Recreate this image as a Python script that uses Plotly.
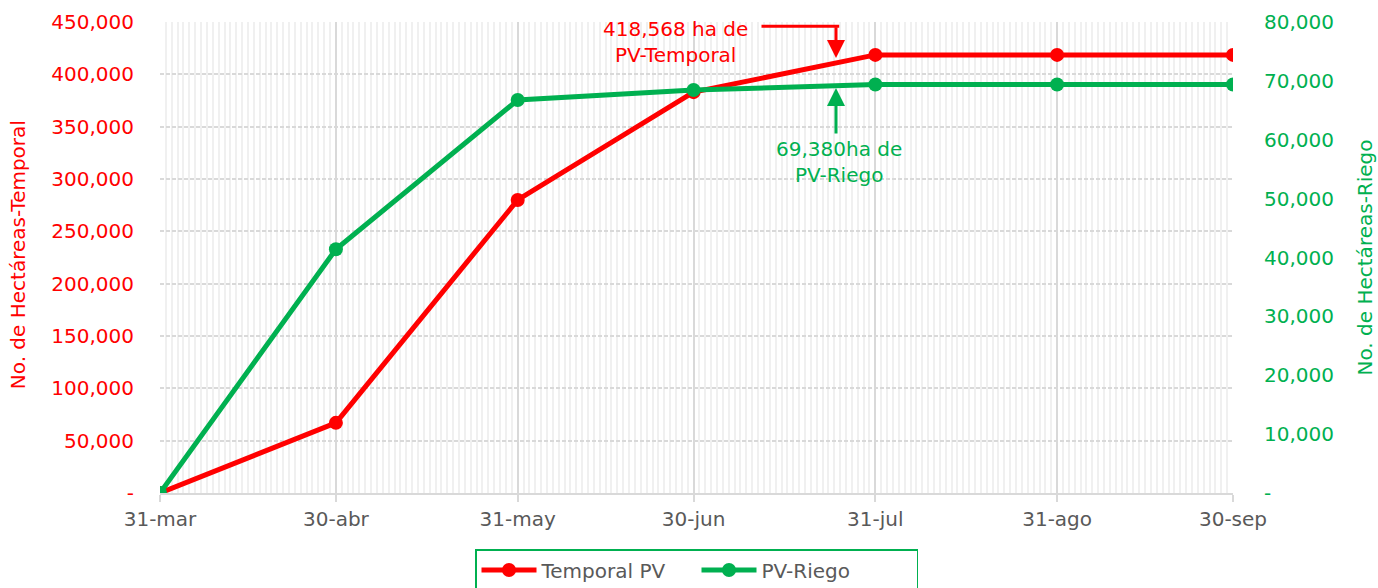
import plotly.graph_objects as go

dates = ["2024-03-31", "2024-04-30", "2024-05-31", "2024-06-30", "2024-07-31", "2024-08-31", "2024-09-30"]
tick_labels = ["31-mar", "30-abr", "31-may", "30-jun", "31-jul", "31-ago", "30-sep"]
temporal = [0, 67000, 280000, 383000, 418568, 418568, 418568]
riego = [0, 41400, 66750, 68450, 69380, 69380, 69380]

left_ticks = [0, 50000, 100000, 150000, 200000, 250000, 300000, 350000, 400000, 450000]
right_ticks = [0, 10000, 20000, 30000, 40000, 50000, 60000, 70000, 80000]

RED = "#FF0000"
GREEN = "#00B050"
GRAY = "#595959"
FONT = "'DejaVu Sans', sans-serif"
FS = 20

def fmt(v):
    return "-" if v == 0 else f"{v:,}"

fig = go.Figure()
fig.add_trace(go.Scatter(x=dates, y=temporal, name="Temporal PV", mode="lines+markers",
                         line=dict(color=RED, width=5), marker=dict(size=14, color=RED), yaxis="y"))
fig.add_trace(go.Scatter(x=dates, y=riego, name="PV-Riego", mode="lines+markers",
                         line=dict(color=GREEN, width=5), marker=dict(size=14, color=GREEN), yaxis="y2"))

fig.update_layout(
    width=1378, height=588,
    margin=dict(l=160, r=145, t=22, b=95, autoexpand=False),
    plot_bgcolor="white", paper_bgcolor="white",
    font=dict(family=FONT, size=FS, color=GRAY),
    showlegend=True,
    legend=dict(orientation="h", x=0.5, xanchor="center", y=-0.119, yanchor="top",
                bordercolor=GREEN, borderwidth=1.5, font=dict(size=FS, color=GRAY),
                entrywidth=150, itemwidth=55),
    xaxis=dict(
        type="date", range=["2024-03-31", "2024-09-30"],
        tickvals=dates, ticktext=tick_labels,
        showgrid=True, gridcolor="#D9D9D9", gridwidth=1.5,
        ticks="outside", ticklen=7, tickcolor="#D9D9D9", tickwidth=1.5,
        showline=True, linecolor="#D9D9D9", linewidth=1.5,
        tickfont=dict(size=FS, color=GRAY),
        minor=dict(dtick=86400000, tick0="2024-03-31", showgrid=True, gridcolor="#F0F0F0", gridwidth=1.5),
        zeroline=False, automargin=False,
    ),
    yaxis=dict(
        range=[0, 450000], tickvals=left_ticks, ticktext=[fmt(v) for v in left_ticks],
        showgrid=True, gridcolor="#D9D9D9", griddash="4px,2px", gridwidth=1.5,
        tickfont=dict(size=FS, color=RED), ticklabelstandoff=25, zeroline=False, automargin=False,
    ),
    yaxis2=dict(
        range=[0, 80000], tickvals=right_ticks, ticktext=[fmt(v) for v in right_ticks],
        overlaying="y", side="right", showgrid=False,
        tickfont=dict(size=FS, color=GREEN), ticklabelstandoff=30, zeroline=False, automargin=False,
    ),
)

# axis titles
fig.add_annotation(text="No. de Hectáreas-Temporal", xref="paper", yref="paper", x=-0.1323, y=0.505,
                   textangle=-90, showarrow=False, font=dict(size=FS, color=RED), xanchor="center", yanchor="middle")
fig.add_annotation(text="No. de Hectáreas-Riego", xref="paper", yref="paper", x=1.123, y=0.5,
                   textangle=-90, showarrow=False, font=dict(size=FS, color=GREEN), xanchor="center", yanchor="middle")

# callout: Temporal
fig.add_annotation(text="418,568 ha de<br>PV-Temporal", xref="x", yref="y", x="2024-06-27", y=430500,
                   showarrow=False, font=dict(size=FS, color=RED), yanchor="middle", xanchor="center")
fig.add_shape(type="line", xref="x", yref="y", x0="2024-07-11 14:00", x1="2024-07-24 20:00", y0=446000, y1=446000,
              line=dict(color=RED, width=3))
fig.add_annotation(text="", xref="x", yref="y", x="2024-07-24 07:00", y=415600,
                   ax="2024-07-24 07:00", ay=446500, axref="x", ayref="y",
                   showarrow=True, arrowhead=2, arrowsize=1.2, arrowwidth=3, arrowcolor=RED)

# callout: Riego
fig.add_annotation(text="69,380ha de<br>PV-Riego", xref="x", yref="y2", x="2024-07-24 18:00", y=56200,
                   showarrow=False, font=dict(size=FS, color=GREEN), yanchor="middle", xanchor="center")
fig.add_annotation(text="", xref="x", yref="y2", x="2024-07-24 07:00", y=68800,
                   ax="2024-07-24 07:00", ay=60800, axref="x", ayref="y2",
                   showarrow=True, arrowhead=2, arrowsize=1.2, arrowwidth=3, arrowcolor=GREEN)

fig.write_html("out.html", config={"displayModeBar": False},
               post_script="document.body.style.margin='0';document.body.style.overflow='hidden';")
